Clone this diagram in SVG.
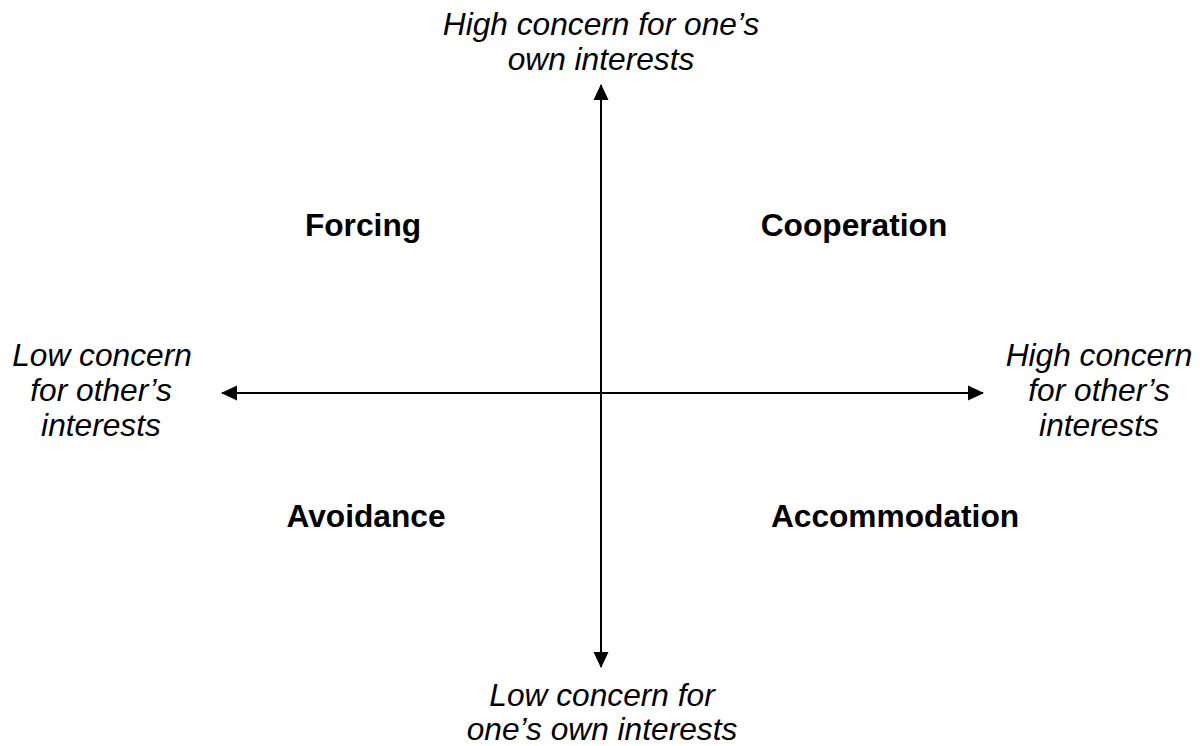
<svg xmlns="http://www.w3.org/2000/svg" width="1200" height="746" viewBox="0 0 1200 746">
  <style>
    .axis-label { font-family: "Liberation Sans", Arial, sans-serif; font-style: italic; font-size: 31.7px; fill: #000; text-anchor: middle; }
    .quadrant { font-family: "Liberation Sans", Arial, sans-serif; font-weight: bold; font-size: 31.7px; fill: #000; text-anchor: middle; }
    .axis { stroke: #000; stroke-width: 2; fill: none; }
  </style>
  <defs>
    <marker id="arrow" viewBox="0 0 16 16" refX="15" refY="8" markerWidth="16" markerHeight="16" markerUnits="userSpaceOnUse" orient="auto-start-reverse">
      <path d="M0,0.5 L16,8 L0,15.5 Z" fill="#000"/>
    </marker>
  </defs>
  <rect width="1200" height="746" fill="#fff"/>

  <!-- axes -->
  <g id="connectors">
    <line class="axis" x1="601" y1="85" x2="601" y2="667" marker-start="url(#arrow)" marker-end="url(#arrow)"/>
    <line class="axis" x1="222" y1="393" x2="983" y2="393" marker-start="url(#arrow)" marker-end="url(#arrow)"/>
  </g>

  <!-- axis end labels -->
  <g id="top-label">
    <text class="axis-label" x="601" y="35">High concern for one’s</text>
    <text class="axis-label" x="601" y="70">own interests</text>
  </g>
  <g id="bottom-label">
    <text class="axis-label" x="602" y="706">Low concern for</text>
    <text class="axis-label" x="602" y="740">one’s own interests</text>
  </g>
  <g id="left-label">
    <text class="axis-label" x="102" y="366">Low concern</text>
    <text class="axis-label" x="101" y="401">for other’s</text>
    <text class="axis-label" x="101" y="436">interests</text>
  </g>
  <g id="right-label">
    <text class="axis-label" x="1099" y="366">High concern</text>
    <text class="axis-label" x="1099" y="401">for other’s</text>
    <text class="axis-label" x="1099" y="436">interests</text>
  </g>

  <!-- quadrants -->
  <g id="forcing"><text class="quadrant" x="363" y="236">Forcing</text></g>
  <g id="cooperation"><text class="quadrant" x="854" y="236">Cooperation</text></g>
  <g id="avoidance"><text class="quadrant" x="366" y="527">Avoidance</text></g>
  <g id="accommodation"><text class="quadrant" x="895" y="527">Accommodation</text></g>
</svg>
